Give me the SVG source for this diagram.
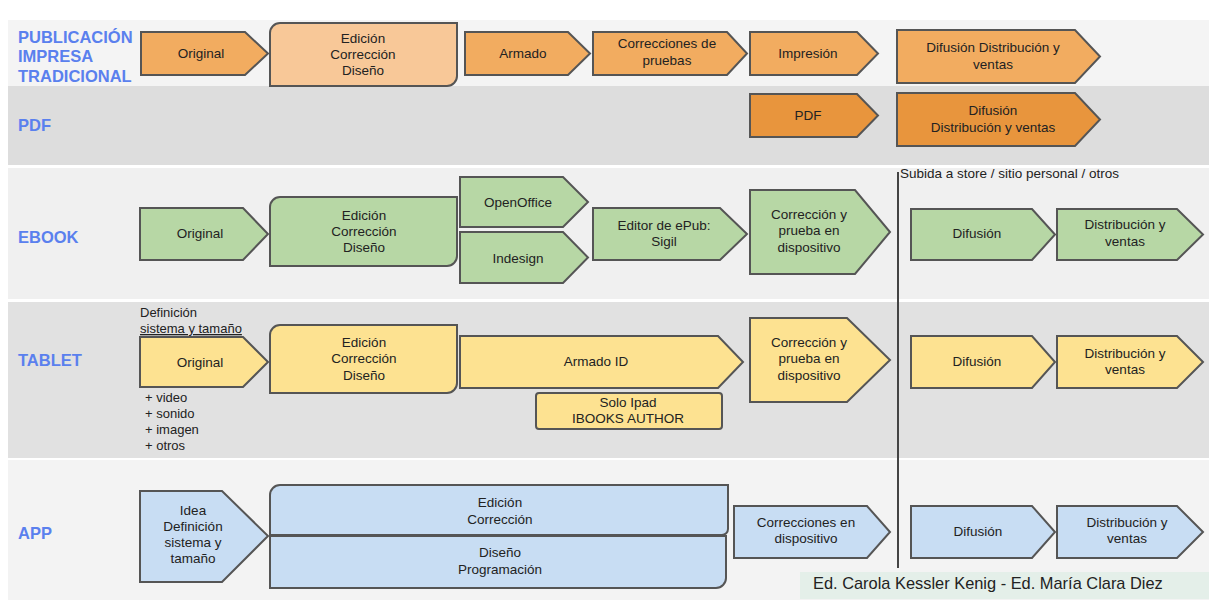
<svg xmlns="http://www.w3.org/2000/svg" width="1209" height="608" viewBox="0 0 1209 608">
<style>
.lbl{font-family:"Liberation Sans",Arial,sans-serif;font-weight:bold;font-size:16.5px;fill:#5a80ee}
.t{font-family:"Liberation Sans",Arial,sans-serif;font-size:13.5px;fill:#222;text-anchor:middle}
.n{font-family:"Liberation Sans",Arial,sans-serif;font-size:13.5px;fill:#222}
.s{stroke:#555;stroke-width:2;stroke-linejoin:miter}
.o1{fill:#f2ac60}
.o1l{fill:#f8c898}
.o2{fill:#e8953d}
.g{fill:#b7d7a5}
.y{fill:#fde291}
.b{fill:#c8ddf3}
</style>
<rect width="1209" height="608" fill="#ffffff"/>
<g id="bands">
<rect x="8" y="20" width="1201" height="66" fill="#f4f4f4"/>
<rect x="8" y="86" width="1201" height="79" fill="#dddddd"/>
<rect x="8" y="168" width="1201" height="131" fill="#f0f0f0"/>
<rect x="8" y="302" width="1201" height="156" fill="#e1e1e1"/>
<rect x="8" y="460" width="1201" height="140" fill="#f3f3f3"/>
</g>
<g id="row-labels">
<text class="lbl" x="18" y="43">PUBLICACIÓN</text>
<text class="lbl" x="18" y="62">IMPRESA</text>
<text class="lbl" x="18" y="82">TRADICIONAL</text>
<text class="lbl" x="18" y="131">PDF</text>
<text class="lbl" x="18" y="243">EBOOK</text>
<text class="lbl" x="18" y="366">TABLET</text>
<text class="lbl" x="18" y="539">APP</text>
</g>
<g id="connectors">
<line x1="898" y1="172" x2="898" y2="568" stroke="#444" stroke-width="2"/>
</g>
<g id="annotations">
<text class="n" x="900" y="178">Subida a store / sitio personal / otros</text>
<text class="n" x="140" y="317" style="font-size:13px">Definición</text>
<text class="n" x="140" y="333" style="font-size:13px" text-decoration="underline">sistema y tamaño</text>
<text class="n" x="145" y="402" style="font-size:13px">+ video</text>
<text class="n" x="145" y="418" style="font-size:13px">+ sonido</text>
<text class="n" x="145" y="434" style="font-size:13px">+ imagen</text>
<text class="n" x="145" y="450" style="font-size:13px">+ otros</text>
</g>
<!-- Row 1 -->
<g id="p-original"><path class="s o1" d="M141 32 H245 L268 53.5 L245 75 H141 Z"/><text class="t" x="201" y="58">Original</text></g>
<g id="p-edicion"><path class="s o1l" d="M270 33 A10 10 0 0 1 280 23 H457 V76 A10 10 0 0 1 447 86 H270 Z"/><text class="t" x="363" y="43">Edición</text><text class="t" x="363" y="59">Corrección</text><text class="t" x="363" y="75">Diseño</text></g>
<g id="p-armado"><path class="s o1" d="M465 32 H568 L590 53.5 L568 75 H465 Z"/><text class="t" x="523" y="58">Armado</text></g>
<g id="p-correcciones"><path class="s o1" d="M593 32 H727 L747 53.5 L727 75 H593 Z"/><text class="t" x="667" y="48">Correcciones de</text><text class="t" x="667" y="65">pruebas</text></g>
<g id="p-impresion"><path class="s o1" d="M750 32 H857 L878 53.5 L857 75 H750 Z"/><text class="t" x="808" y="58">Impresión</text></g>
<g id="p-difusion"><path class="s o1" d="M897 30 H1075 L1100 56.5 L1075 83 H897 Z"/><text class="t" x="993" y="52">Difusión Distribución y</text><text class="t" x="993" y="69">ventas</text></g>
<!-- PDF -->
<g id="pdf-pdf"><path class="s o2" d="M750 94 H857 L878 115.5 L857 137 H750 Z"/><text class="t" x="808" y="120">PDF</text></g>
<g id="pdf-difusion"><path class="s o2" d="M897 93 H1075 L1100 119.5 L1075 146 H897 Z"/><text class="t" x="993" y="115">Difusión</text><text class="t" x="993" y="132">Distribución y ventas</text></g>
<!-- EBOOK -->
<g id="e-original"><path class="s g" d="M140 208 H243 L268 234 L243 260 H140 Z"/><text class="t" x="200" y="238">Original</text></g>
<g id="e-edicion"><path class="s g" d="M270 207 A10 10 0 0 1 280 197 H457 V256 A10 10 0 0 1 447 266 H270 Z"/><text class="t" x="364" y="220">Edición</text><text class="t" x="364" y="236">Corrección</text><text class="t" x="364" y="252">Diseño</text></g>
<g id="e-openoffice"><path class="s g" d="M460 177 H563 L588 202 L563 227 H460 Z"/><text class="t" x="518" y="207">OpenOffice</text></g>
<g id="e-indesign"><path class="s g" d="M460 232 H563 L588 257.5 L563 283 H460 Z"/><text class="t" x="518" y="263">Indesign</text></g>
<g id="e-sigil"><path class="s g" d="M593 208 H720 L747 234 L720 260 H593 Z"/><text class="t" x="664" y="230">Editor de ePub:</text><text class="t" x="664" y="246">Sigil</text></g>
<g id="e-correccion"><path class="s g" d="M750 190 H855 L890 232 L855 274 H750 Z"/><text class="t" x="809" y="219">Corrección y</text><text class="t" x="809" y="235">prueba en</text><text class="t" x="809" y="252">dispositivo</text></g>
<g id="e-difusion"><path class="s g" d="M911 209 H1032 L1055 234.5 L1032 260 H911 Z"/><text class="t" x="977" y="238">Difusión</text></g>
<g id="e-distribucion"><path class="s g" d="M1057 209 H1177 L1203 234.5 L1177 260 H1057 Z"/><text class="t" x="1125" y="229">Distribución y</text><text class="t" x="1125" y="246">ventas</text></g>
<!-- TABLET -->
<g id="t-original"><path class="s y" d="M140 337 H243 L268 362 L243 387 H140 Z"/><text class="t" x="200" y="367">Original</text></g>
<g id="t-edicion"><path class="s y" d="M270 335 A10 10 0 0 1 280 325 H457 V383 A10 10 0 0 1 447 393 H270 Z"/><text class="t" x="364" y="347">Edición</text><text class="t" x="364" y="363">Corrección</text><text class="t" x="364" y="380">Diseño</text></g>
<g id="t-armado"><path class="s y" d="M460 336 H718 L743 362 L718 388 H460 Z"/><text class="t" x="596" y="366">Armado ID</text></g>
<g id="t-ibooks"><rect class="s y" x="536" y="393" width="186" height="36" rx="3"/><text class="t" x="628" y="407">Solo Ipad</text><text class="t" x="628" y="423">IBOOKS AUTHOR</text></g>
<g id="t-correccion"><path class="s y" d="M750 318 H847 L890 360 L847 402 H750 Z"/><text class="t" x="809" y="347">Corrección y</text><text class="t" x="809" y="363">prueba en</text><text class="t" x="809" y="380">dispositivo</text></g>
<g id="t-difusion"><path class="s y" d="M911 336 H1032 L1055 362 L1032 388 H911 Z"/><text class="t" x="977" y="366">Difusión</text></g>
<g id="t-distribucion"><path class="s y" d="M1057 336 H1177 L1203 362 L1177 388 H1057 Z"/><text class="t" x="1125" y="358">Distribución y</text><text class="t" x="1125" y="374">ventas</text></g>
<!-- APP -->
<g id="a-idea"><path class="s b" d="M140 491 H222 L268 536 L222 582 H140 Z"/><text class="t" x="193" y="515">Idea</text><text class="t" x="193" y="531">Definición</text><text class="t" x="193" y="547">sistema y</text><text class="t" x="193" y="563">tamaño</text></g>
<g id="a-diseno"><path class="s b" d="M270 536 H726 V578 A10 10 0 0 1 716 588 H270 Z"/><text class="t" x="500" y="557">Diseño</text><text class="t" x="500" y="574">Programación</text></g>
<g id="a-edicion"><path class="s b" d="M270 495 A10 10 0 0 1 280 485 H728 V529 A6 6 0 0 1 722 535 H270 Z"/><text class="t" x="500" y="507">Edición</text><text class="t" x="500" y="524">Corrección</text></g>
<g id="a-correcciones"><path class="s b" d="M734 506 H867 L890 532 L867 558 H734 Z"/><text class="t" x="806" y="527">Correcciones en</text><text class="t" x="806" y="543">dispositivo</text></g>
<g id="a-difusion"><path class="s b" d="M911 506 H1032 L1055 532 L1032 558 H911 Z"/><text class="t" x="978" y="536">Difusión</text></g>
<g id="a-distribucion"><path class="s b" d="M1057 506 H1177 L1203 532 L1177 558 H1057 Z"/><text class="t" x="1127" y="527">Distribución y</text><text class="t" x="1127" y="543">ventas</text></g>
<g id="footer">
<rect x="800" y="572" width="409" height="27" fill="#e4efe9"/>
<text class="n" x="813" y="589" style="font-size:16.4px">Ed. Carola Kessler Kenig - Ed. María Clara Diez</text>
</g>
</svg>
